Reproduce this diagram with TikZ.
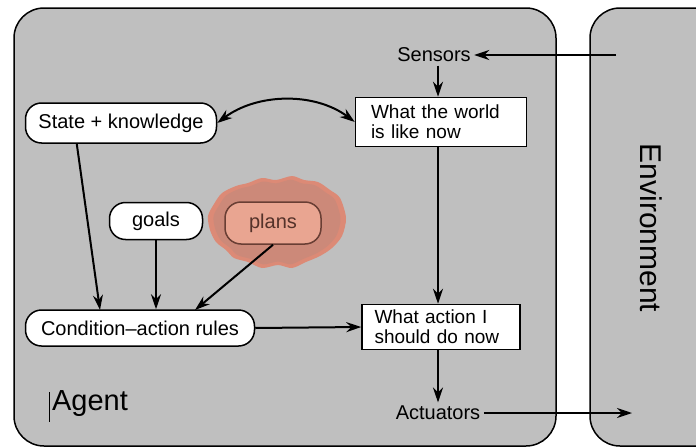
\documentclass[tikz,border=0pt]{standalone}
\usepackage{fontspec}
\setmainfont{Liberation Sans}
\usetikzlibrary{arrows.meta}

\definecolor{panel}{RGB}{191,191,191}
\definecolor{cloudout}{RGB}{220,138,118}
\definecolor{cloudin}{RGB}{204,137,121}
\definecolor{planfill}{RGB}{233,165,145}
\definecolor{plandraw}{RGB}{105,62,52}

\begin{document}
\begin{tikzpicture}[x=1pt, y=-1pt,
	every node/.style={font=\fontsize{20}{22}\selectfont},
	pill/.style={draw, line width=1.5pt, fill=white, rounded corners=16pt, minimum height=40pt, inner sep=0pt},
	flat/.style={draw, line width=1.5pt, fill=white, align=left, inner sep=0pt, font=\fontsize{19}{20}\selectfont},
	link/.style={line width=2pt, -{Stealth[length=15pt,width=10pt]}}]
	\useasboundingbox (0,0) rectangle (696,447);
	\clip (0,0) rectangle (696,447);
	
	% the two panels
	\draw[fill=panel, line width=1.5pt, rounded corners=30pt] (14,8) rectangle (556,446);
	\draw[fill=panel, line width=1.5pt, rounded corners=30pt] (590,8) rectangle (740,446);
	
	% cloud behind the plans
	\fill[cloudout] plot[smooth cycle] coordinates {(346,218) (340,198) (330,190) (318,182) (304,180) (292,176) (276,180) (262,178) (248,183) (236,186) (222,193) (214,204) (208,216) (210,230) (216,242) (226,250) (234,258) (248,262) (262,268) (278,265) (292,268) (306,262) (320,256) (332,248) (342,236)};
	\fill[cloudin, scale around={0.92:(277,222)}] plot[smooth cycle] coordinates {(346,218) (340,198) (330,190) (318,182) (304,180) (292,176) (276,180) (262,178) (248,183) (236,186) (222,193) (214,204) (208,216) (210,230) (216,242) (226,250) (234,258) (248,262) (262,268) (278,265) (292,268) (306,262) (320,256) (332,248) (342,236)};
	
	\node (sensors) at (434,55) {Sensors};
	\node (actuators) at (438,413) {Actuators};
	\node[flat, minimum width=171pt, minimum height=49pt, text width=140pt] (world) at (441,122) {What the world\\is like now};
	\node[flat, minimum width=158pt, minimum height=45pt, text width=133pt] (action) at (441,327) {What action I\\should do now};
	\node[pill, minimum width=191pt] (state) at (121,123) {State + knowledge};
	\node[pill, minimum width=93pt, minimum height=37pt] (goals) at (156,221) {goals};
	\node[pill, draw=plandraw, fill=planfill, text=plandraw!80!black, minimum width=96pt, minimum height=42pt] (plans) at (273,223) {plans};
	\node[pill, minimum width=229pt, minimum height=36pt] (rules) at (140,328) {Condition–action rules};
	\node[font=\fontsize{29}{31}\selectfont] (agent) at (90,404) {Agent};
	\node[font=\fontsize{30}{32}\selectfont, rotate=-90] (env) at (651,228) {Environment};
	\draw[line width=0.6pt] (49,392) -- (49,422);
	
	\coordinate (envin) at (616,55);
	\coordinate (envout) at (632,413);
	\coordinate (rulesin) at (100,310);
	\coordinate (plansin) at (195,310);
	\coordinate (drop) at (438,0);
	
	\draw[link] (envin) -- (sensors.east);
	\draw[link] (drop |- sensors.south) -- (drop |- world.north);
	\draw[link, {Stealth[length=15pt,width=10pt]}-{Stealth[length=15pt,width=10pt]}] (state.east) .. controls +(40,-30) and +(-40,-30) .. (world.west);
	\draw[link] (drop |- world.south) -- (drop |- action.north);
	\draw[link] (state.south west) ++(52,0) -- (rulesin);
	\draw[link] (goals) -- (goals |- rules.north);
	\draw[link] (plans.south) -- (plansin);
	\draw[link] (rules.east) -- (action.west);
	\draw[link] (drop |- action.south) -- (drop |- actuators.north);
	\draw[link] (actuators.east) -- (envout);
\end{tikzpicture}
\end{document}
